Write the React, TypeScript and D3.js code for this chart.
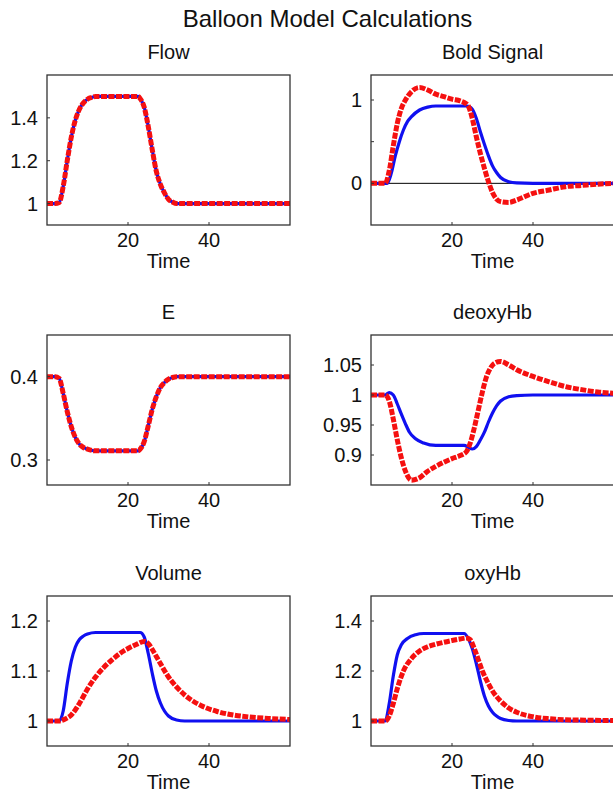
import React from 'react';
import * as d3 from 'd3';

// x axis (shared)
const timeDomain = [0, 60];
const timeTicks = [20, 40];

// Flow (both curves coincide)
const flowT = [0, 2, 3, 4, 5, 6, 7, 8, 9, 10, 11, 12, 22.5, 23, 24, 25, 26, 27, 28, 29, 30, 31, 32, 60];
const flowV = [1, 1, 1.005, 1.08, 1.2, 1.31, 1.39, 1.44, 1.47, 1.487, 1.495, 1.5, 1.5, 1.49, 1.45, 1.36, 1.25, 1.15, 1.09, 1.05, 1.02, 1.007, 1.0, 1.0];

// E (both curves coincide)
const eT = [0, 2, 3, 4, 5, 6, 7, 8, 9, 10, 12, 22.5, 23, 24, 25, 26, 27, 28, 29, 30, 31, 32, 60];
const eV = [0.4, 0.4, 0.398, 0.38, 0.358, 0.34, 0.327, 0.319, 0.315, 0.313, 0.311, 0.311, 0.313, 0.322, 0.341, 0.361, 0.376, 0.387, 0.393, 0.397, 0.399, 0.4, 0.4];

// Bold signal
const boldBlueT = [0, 4, 5, 6, 7, 8, 9, 10, 12, 14, 16, 23.5, 24.5, 25, 26, 27, 28, 29, 30, 31, 32, 34, 36, 40, 60];
const boldBlueV = [0, 0, 0.12, 0.33, 0.5, 0.64, 0.74, 0.8, 0.88, 0.915, 0.928, 0.928, 0.915, 0.89, 0.78, 0.62, 0.47, 0.33, 0.21, 0.13, 0.07, 0.02, 0.005, 0, 0];
const boldRedT = [0, 3.5, 4.5, 5.5, 6.5, 7.5, 8.5, 10, 12, 14, 16, 18, 20, 22, 23, 24, 25, 26, 27, 28, 29, 30, 31, 32, 34, 36, 40, 44, 48, 52, 56, 60];
const boldRedV = [0, 0, 0.15, 0.45, 0.72, 0.9, 1.0, 1.1, 1.15, 1.12, 1.07, 1.04, 1.01, 0.99, 0.97, 0.93, 0.78, 0.56, 0.36, 0.18, 0.02, -0.11, -0.19, -0.22, -0.23, -0.2, -0.12, -0.08, -0.04, -0.025, -0.01, 0];

// deoxyHb
const deoxyBlueT = [0, 3.5, 4.5, 5.5, 6.5, 7.5, 8.5, 9.5, 11, 13, 16, 23, 24, 25, 26, 27, 28, 29, 30, 31, 32, 34, 36, 40, 60];
const deoxyBlueV = [1, 1, 1.004, 1.0, 0.985, 0.968, 0.952, 0.938, 0.927, 0.92, 0.916, 0.916, 0.913, 0.91, 0.914, 0.925, 0.938, 0.955, 0.97, 0.982, 0.99, 0.997, 0.999, 1.0, 1.0];
const deoxyRedT = [0, 3.5, 4.5, 5.5, 6.5, 7.5, 8.5, 10, 12, 14, 16, 18, 20, 22, 23.5, 24.5, 25.5, 26.5, 27.5, 28.5, 29.5, 30.5, 32, 34, 36, 40, 44, 48, 52, 56, 60];
const deoxyRedV = [1, 1, 0.99, 0.96, 0.925, 0.895, 0.873, 0.858, 0.862, 0.873, 0.881, 0.888, 0.894, 0.899, 0.905, 0.92, 0.945, 0.975, 1.005, 1.03, 1.045, 1.053, 1.056, 1.05, 1.042, 1.031, 1.022, 1.014, 1.009, 1.005, 1.003];

// Volume
const volBlueT = [0, 3, 4, 5, 6, 7, 8, 9, 10, 12, 23, 24, 25, 26, 27, 28, 29, 30, 32, 34, 60];
const volBlueV = [1, 1, 1.02, 1.075, 1.12, 1.148, 1.163, 1.17, 1.174, 1.177, 1.177, 1.168, 1.135, 1.095, 1.06, 1.036, 1.02, 1.01, 1.002, 1.0, 1.0];
const volRedT = [0, 3, 4.5, 6, 8, 10, 12, 14, 16, 18, 20, 22, 24, 25, 26, 27, 28, 30, 32, 34, 36, 38, 42, 46, 50, 55, 60];
const volRedV = [1, 1, 1.004, 1.012, 1.035, 1.064, 1.088, 1.107, 1.122, 1.135, 1.145, 1.153, 1.159, 1.155, 1.143, 1.129, 1.115, 1.088, 1.068, 1.052, 1.04, 1.031, 1.019, 1.012, 1.008, 1.005, 1.003];

// oxyHb
const oxyBlueT = [0, 3.5, 4.5, 5.5, 6.5, 7.5, 9, 11, 13, 23, 24, 25, 26, 27, 28, 29, 30, 31, 32, 34, 36, 60];
const oxyBlueV = [1, 1, 1.07, 1.18, 1.265, 1.305, 1.33, 1.345, 1.35, 1.35, 1.33, 1.29, 1.23, 1.16, 1.1, 1.06, 1.035, 1.02, 1.01, 1.002, 1.0, 1.0];
const oxyRedT = [0, 3.5, 4.5, 5.5, 6.5, 8, 10, 12, 14, 16, 18, 20, 22, 23.5, 24.5, 25.5, 26.5, 27.5, 28.5, 30, 32, 34, 36, 40, 44, 48, 54, 60];
const oxyRedV = [1, 1, 1.02, 1.07, 1.13, 1.2, 1.25, 1.28, 1.297, 1.307, 1.315, 1.322, 1.328, 1.332, 1.325, 1.29, 1.245, 1.2, 1.165, 1.12, 1.08, 1.052, 1.035, 1.017, 1.009, 1.005, 1.003, 1.002];

const panels = [
  { title: 'Flow', col: 0, row: 0, yDomain: [0.9, 1.6], yTicks: [1, 1.2, 1.4], yLabels: ['1', '1.2', '1.4'], blueT: flowT, blueV: flowV, redT: flowT, redV: flowV, zero: false },
  { title: 'Bold Signal', col: 1, row: 0, yDomain: [-0.5, 1.3], yTicks: [0, 0.5, 1], yLabels: ['0', '', '1'], blueT: boldBlueT, blueV: boldBlueV, redT: boldRedT, redV: boldRedV, zero: true },
  { title: 'E', col: 0, row: 1, yDomain: [0.27, 0.45], yTicks: [0.3, 0.4], yLabels: ['0.3', '0.4'], blueT: eT, blueV: eV, redT: eT, redV: eV, zero: false },
  { title: 'deoxyHb', col: 1, row: 1, yDomain: [0.85, 1.1], yTicks: [0.9, 0.95, 1, 1.05], yLabels: ['0.9', '0.95', '1', '1.05'], blueT: deoxyBlueT, blueV: deoxyBlueV, redT: deoxyRedT, redV: deoxyRedV, zero: false },
  { title: 'Volume', col: 0, row: 2, yDomain: [0.95, 1.25], yTicks: [1, 1.1, 1.2], yLabels: ['1', '1.1', '1.2'], blueT: volBlueT, blueV: volBlueV, redT: volRedT, redV: volRedV, zero: false },
  { title: 'oxyHb', col: 1, row: 2, yDomain: [0.9, 1.5], yTicks: [1, 1.2, 1.4], yLabels: ['1', '1.2', '1.4'], blueT: oxyBlueT, blueV: oxyBlueV, redT: oxyRedT, redV: oxyRedV, zero: false },
];

const colX = [47, 371];
const rowY = [75, 335, 596];
const pw = 243;
const ph = 150;
const font = '"Liberation Sans", Arial, sans-serif';
const axisColor = '#333';

const Panel = ({ p }: { p: any }) => {
  const x0 = colX[p.col];
  const y0 = rowY[p.row];
  const x = d3.scaleLinear().domain(timeDomain).range([0, pw]);
  const y = d3.scaleLinear().domain(p.yDomain).range([ph, 0]);
  const mk = (ts: number[], vs: number[]) =>
    d3.line<[number, number]>().x(d => x(d[0])).y(d => y(d[1])).curve(d3.curveMonotoneX)(ts.map((t, i) => [t, vs[i]]));
  const clipId = `clip-${p.col}-${p.row}`;
  return (
    <g transform={`translate(${x0},${y0})`}>
      <defs>
        <clipPath id={clipId}><rect x={0} y={0} width={pw} height={ph} /></clipPath>
      </defs>
      <text x={pw / 2} y={-16} textAnchor="middle" fontSize={20} fontFamily={font} fill="#111">{p.title}</text>
      <g clipPath={`url(#${clipId})`}>
        {p.zero && <line x1={0} x2={pw} y1={y(0)} y2={y(0)} stroke="#000" strokeWidth={1} />}
        <path d={mk(p.blueT, p.blueV) || ''} fill="none" stroke="#1010f0" strokeWidth={3.2} />
        <path d={mk(p.redT, p.redV) || ''} fill="none" stroke="#f51010" strokeWidth={5} strokeDasharray="6,1.5" />
      </g>
      <rect x={0} y={0} width={pw} height={ph} fill="none" stroke={axisColor} strokeWidth={1.3} />
      {timeTicks.map(t => (
        <g key={t}>
          <line x1={x(t)} x2={x(t)} y1={ph} y2={ph - 3} stroke={axisColor} strokeWidth={1} />
          <text x={x(t)} y={ph + 22} textAnchor="middle" fontSize={20} fontFamily={font} fill="#111">{t}</text>
        </g>
      ))}
      {p.yTicks.map((v: number, i: number) => (
        <g key={v}>
          <line x1={0} x2={3} y1={y(v)} y2={y(v)} stroke={axisColor} strokeWidth={1} />
          <text x={-9} y={y(v)} dy="0.35em" textAnchor="end" fontSize={20} fontFamily={font} fill="#111">{p.yLabels[i]}</text>
        </g>
      ))}
      <text x={pw / 2} y={ph + 43} textAnchor="middle" fontSize={20} fontFamily={font} fill="#111">Time</text>
    </g>
  );
};

export default function App() {
  return (
    <svg width={613} height={798} style={{ position: 'absolute', left: 0, top: 0, background: '#fff' }}>
      <rect width={613} height={798} fill="#fff" />
      <text x={327.5} y={27} textAnchor="middle" fontSize={24} fontFamily={font} fill="#111">Balloon Model Calculations</text>
      {panels.map(p => <Panel key={p.title} p={p} />)}
    </svg>
  );
}
